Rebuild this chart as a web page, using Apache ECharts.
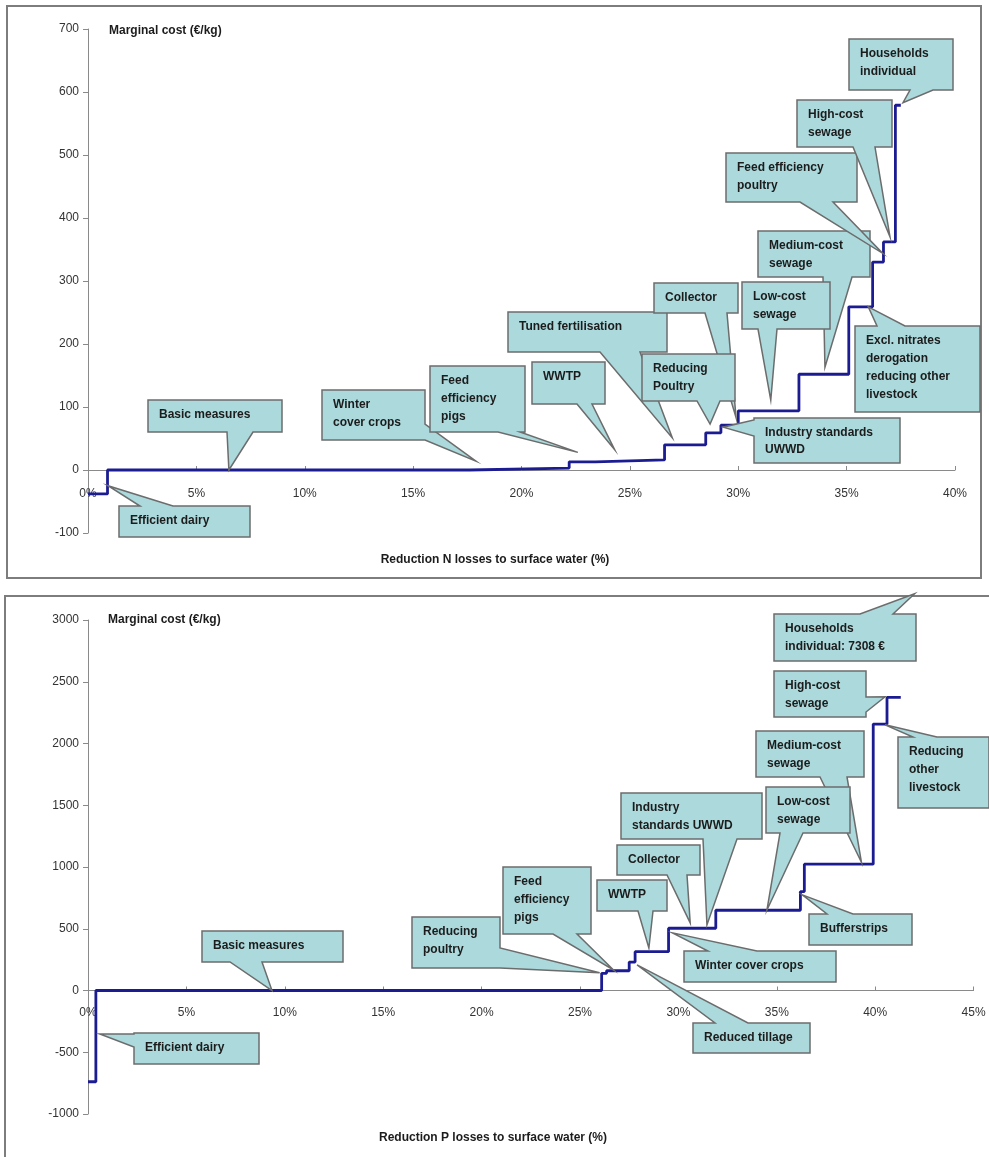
<!DOCTYPE html>
<html><head><meta charset="utf-8">
<script src="https://cdn.jsdelivr.net/npm/echarts@6/dist/echarts.min.js"></script>
<style>html,body{margin:0;padding:0;background:#fff}#c{width:989px;height:1157px}</style>
</head><body><div id="c"></div>
<script>
// ---------- DATA ----------
// N chart: step starts (% reduction) and marginal cost (€/kg) of each step
const nStartPct = [0, 0.9, 17.6, 22.2, 23.4, 26.6, 28.5, 29.2, 30.0, 32.8, 35.1, 36.2, 36.7, 37.25];
const nCost     = [-38, 0, 3, 13, 16, 40, 59, 71, 94, 152, 259, 330, 362, 579];
const nEndPct   = 37.5;
// P chart
const pStartPct = [0, 0.4, 26.1, 26.35, 27.5, 27.8, 29.5, 31.9, 36.2, 36.4, 39.9, 40.6];
const pCost     = [-739, 0, 139, 160, 230, 314, 504, 650, 801, 1023, 2157, 2373];
const pEndPct   = 41.3;

// axis ticks
const nYTicks = {min: -100, max: 700, step: 100};
const pYTicks = {min: -1000, max: 3000, step: 500};
const nXTicks = {min: 0, max: 40, step: 5};
const pXTicks = {min: 0, max: 45, step: 5};

// callout texts and the data points they point to [pct, cost]
const nLabels = [
  ["Basic measures"], ["Efficient dairy"], ["Winter", "cover crops"], ["Feed", "efficiency", "pigs"],
  ["WWTP"], ["Tuned fertilisation"], ["Collector"], ["Reducing", "Poultry"],
  ["Industry standards", "UWWD"], ["Medium-cost", "sewage"], ["Low-cost", "sewage"],
  ["Excl. nitrates", "derogation", "reducing other", "livestock"], ["Feed efficiency", "poultry"],
  ["High-cost", "sewage"], ["Households", "individual"]
];
const nTips = [
  [6.5, 0], [0.92, -25], [17.9, 14], [22.6, 28], [24.3, 32], [26.96, 51], [29.9, 83], [28.7, 73],
  [29.3, 68], [34.0, 163], [31.5, 111], [36.0, 259], [36.66, 344], [37.0, 370], [37.6, 583]
];
const pLabels = [
  ["Basic measures"], ["Efficient dairy"], ["Reducing", "poultry"], ["Feed", "efficiency", "pigs"],
  ["WWTP"], ["Collector"], ["Industry", "standards UWWD"], ["Winter cover crops"], ["Reduced tillage"],
  ["Medium-cost", "sewage"], ["Low-cost", "sewage"], ["Bufferstrips"], ["Reducing", "other", "livestock"],
  ["High-cost", "sewage"], ["Households", "individual: 7308 €"]
];
const pTips = [
  [9.35, 0], [0.6, -352], [26.0, 144], [26.7, 166], [28.5, 344], [30.6, 547], [31.45, 531], [29.7, 467],
  [27.9, 207], [39.3, 1038], [34.5, 652], [36.3, 774], [40.5, 2151], [40.5, 2378], [42.0, 3213]
];

// ---------- LAYOUT (callout boxes, pixels) ----------
const nBoxes = [
  {box:[148,400,282,432], side:'b', base:[227,253]},
  {box:[119,506,250,537], side:'t', base:[140,173]},
  {box:[322,390,425,440], side:'r', base:[424,440]},
  {box:[430,366,525,432], side:'b', base:[498,520]},
  {box:[532,362,605,404], side:'b', base:[577,592]},
  {box:[508,312,667,352], side:'b', base:[600,640]},
  {box:[654,283,738,313], side:'b', base:[705,727]},
  {box:[642,354,735,401], side:'b', base:[697,720]},
  {box:[754,418,900,463], side:'l', base:[420,436], lh:16.7},
  {box:[758,231,870,277], side:'b', base:[823,852]},
  {box:[742,282,830,329], side:'b', base:[758,777]},
  {box:[855,326,980,412], side:'t', base:[877,905]},
  {box:[726,153,857,202], side:'b', base:[800,833]},
  {box:[797,100,892,147], side:'b', base:[853,875]},
  {box:[849,39,953,90],   side:'b', base:[910,933]}
];
const pBoxes = [
  {box:[202,931,343,962], side:'b', base:[230,262]},
  {box:[134,1033,259,1064], side:'l', base:[1034,1047]},
  {box:[412,917,500,968], side:'r', base:[948,968]},
  {box:[503,867,591,934], side:'b', base:[553,577]},
  {box:[597,880,667,911], side:'b', base:[638,653]},
  {box:[617,845,700,875], side:'b', base:[667,687]},
  {box:[621,793,762,839], side:'b', base:[703,737]},
  {box:[684,951,836,982], side:'t', base:[708,757]},
  {box:[693,1023,810,1053], side:'t', base:[715,748]},
  {box:[756,731,864,777], side:'b', base:[820,847]},
  {box:[766,787,850,833], side:'b', base:[780,803]},
  {box:[809,914,912,945], side:'t', base:[827,853]},
  {box:[898,737,989,808], side:'t', base:[913,937]},
  {box:[774,671,866,717], side:'r', base:[697,712]},
  {box:[774,614,916,661], side:'t', base:[860,893]}
];

const FONT = '"Liberation Sans", Arial, sans-serif';
const LINE = '#1c1c92';
const FILL = '#abd9dc';
const EDGE = '#6c6c6c';
const H = 1157;
const grids = [
  {left: 88, right: 34, top: 29, bottom: 624},
  {left: 88, right: 15.4, top: 620, bottom: 43}
];

function stepData(starts, costs, end) {
  const d = starts.map((x, i) => [x, costs[i]]);
  d.push([end, costs[costs.length - 1]]);
  return d;
}

function calloutRender(labels, boxes) {
  return function (params, api) {
    const i = api.value(2);
    const t = api.coord([api.value(0), api.value(1)]);
    const L = boxes[i];
    const [x0, y0, x1, y1] = L.box;
    const [b1, b2] = L.base;
    let pts;
    if (L.side === 'b') pts = [[x0,y0],[x1,y0],[x1,y1],[b2,y1],t,[b1,y1],[x0,y1]];
    else if (L.side === 't') pts = [[x0,y0],[b1,y0],t,[b2,y0],[x1,y0],[x1,y1],[x0,y1]];
    else if (L.side === 'l') pts = [[x0,y0],[x1,y0],[x1,y1],[x0,y1],[x0,b2],t,[x0,b1]];
    else pts = [[x0,y0],[x1,y0],[x1,b1],t,[x1,b2],[x1,y1],[x0,y1]];
    const children = [{
      type: 'polygon', shape: {points: pts},
      style: {fill: FILL, stroke: EDGE, lineWidth: 1.5}
    }];
    const lh = L.lh || 18;
    labels[i].forEach((s, k) => {
      children.push({
        type: 'text', x: x0 + 11, y: y0 + 15 + k * lh,
        style: {text: s, font: 'bold 12px ' + FONT, fill: '#1c1c1c', verticalAlign: 'middle', align: 'left'}
      });
    });
    return {type: 'group', children};
  };
}

// place the x axis at the zero of the y scale
function zeroOffset(g, yt) {
  const h = H - g.top - g.bottom;
  return -h * (0 - yt.min) / (yt.max - yt.min);
}

function xAxisCfg(idx, t, yt, margin) {
  return {
    type: 'value', gridIndex: idx, min: t.min, max: t.max, interval: t.step,
    position: 'bottom', offset: zeroOffset(grids[idx], yt),
    axisLine: {onZero: false, lineStyle: {color: '#8a8a8a', width: 1}},
    axisTick: {inside: true, length: 4, lineStyle: {color: '#8a8a8a'}},
    axisLabel: {formatter: '{value}%', color: '#333', fontFamily: FONT, fontSize: 12, margin: margin},
    splitLine: {show: false}
  };
}
function yAxisCfg(idx, t) {
  return {
    type: 'value', gridIndex: idx, min: t.min, max: t.max, interval: t.step,
    axisLine: {show: true, onZero: false, lineStyle: {color: '#8a8a8a', width: 1}},
    axisTick: {show: true, length: 5, lineStyle: {color: '#8a8a8a'}},
    axisLabel: {color: '#333', fontFamily: FONT, fontSize: 12, margin: 9, formatter: v => String(v)},
    splitLine: {show: false}
  };
}

const chart = echarts.init(document.getElementById('c'), null, {renderer: 'canvas'});
chart.setOption({
  animation: false,
  backgroundColor: '#fff',
  grid: grids,
  xAxis: [xAxisCfg(0, nXTicks, nYTicks, 18), xAxisCfg(1, pXTicks, pYTicks, 16)],
  yAxis: [yAxisCfg(0, nYTicks), yAxisCfg(1, pYTicks)],
  graphic: [
    {type: 'rect', shape: {x: 7, y: 6, width: 974, height: 572}, style: {fill: 'none', stroke: '#7d7d7d', lineWidth: 2}, silent: true},
    {type: 'rect', shape: {x: 5, y: 596, width: 1000, height: 600}, style: {fill: 'none', stroke: '#7d7d7d', lineWidth: 2}, silent: true},
    {type: 'text', x: 109, y: 31, style: {text: 'Marginal cost (€/kg)', font: 'bold 12px ' + FONT, fill: '#1c1c1c', verticalAlign: 'middle'}},
    {type: 'text', x: 108, y: 620, style: {text: 'Marginal cost (€/kg)', font: 'bold 12px ' + FONT, fill: '#1c1c1c', verticalAlign: 'middle'}},
    {type: 'text', x: 495, y: 560, style: {text: 'Reduction N losses to surface water (%)', font: 'bold 12px ' + FONT, fill: '#1c1c1c', align: 'center', verticalAlign: 'middle'}},
    {type: 'text', x: 493, y: 1138, style: {text: 'Reduction P losses to surface water (%)', font: 'bold 12px ' + FONT, fill: '#1c1c1c', align: 'center', verticalAlign: 'middle'}}
  ],
  series: [
    {type: 'line', xAxisIndex: 0, yAxisIndex: 0, step: 'end', symbol: 'none',
     lineStyle: {color: LINE, width: 2.8}, data: stepData(nStartPct, nCost, nEndPct), z: 2},
    {type: 'line', xAxisIndex: 1, yAxisIndex: 1, step: 'end', symbol: 'none',
     lineStyle: {color: LINE, width: 2.8}, data: stepData(pStartPct, pCost, pEndPct), z: 2},
    {type: 'custom', xAxisIndex: 0, yAxisIndex: 0, clip: false, z: 5,
     renderItem: calloutRender(nLabels, nBoxes), data: nTips.map((t, i) => [t[0], t[1], i])},
    {type: 'custom', xAxisIndex: 1, yAxisIndex: 1, clip: false, z: 5,
     renderItem: calloutRender(pLabels, pBoxes), data: pTips.map((t, i) => [t[0], t[1], i])}
  ]
});
</script>
</body></html>
